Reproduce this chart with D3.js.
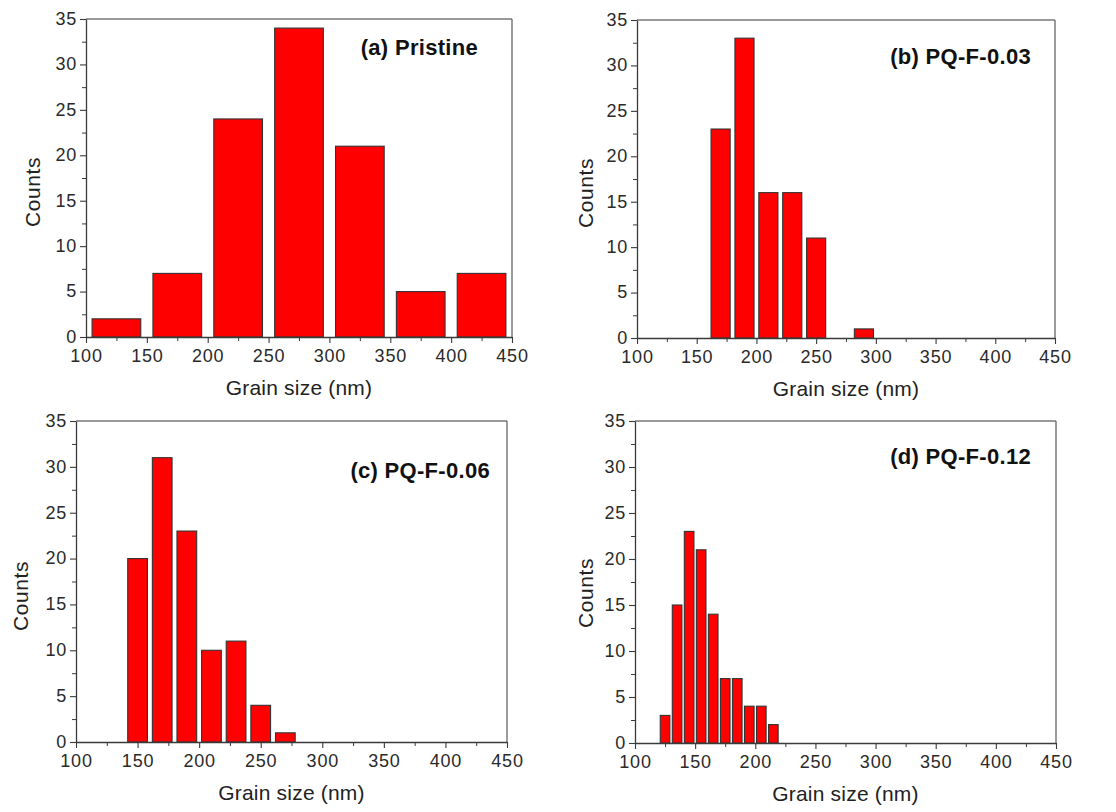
<!DOCTYPE html>
<html>
<head>
<meta charset="utf-8">
<script src="https://cdn.jsdelivr.net/npm/d3@7"></script>
<style>
  html, body { margin: 0; padding: 0; background: #fff; }
  svg { display: block; font-family: "Liberation Sans", Arial, sans-serif; }
</style>
</head>
<body>
<svg id="chart" width="1116" height="812"></svg>
<script>
// ---- data ----
const xTickValues = [100, 150, 200, 250, 300, 350, 400, 450];
const yTickValues = [0, 5, 10, 15, 20, 25, 30, 35];
const xDomain = [100, 450];
const yDomain = [0, 35];

const pristineCenters = [125, 175, 225, 275, 325, 375, 425];
const pristineCounts  = [2, 7, 24, 34, 21, 5, 7];

const pqf003Centers = [170, 190, 210, 230, 250, 270, 290];
const pqf003Counts  = [23, 33, 16, 16, 11, 0, 1];

const pqf006Centers = [150, 170, 190, 210, 230, 250, 270];
const pqf006Counts  = [20, 31, 23, 10, 11, 4, 1];

const pqf012Centers = [125, 135, 145, 155, 165, 175, 185, 195, 205, 215];
const pqf012Counts  = [3, 15, 23, 21, 14, 7, 7, 4, 4, 2];

const panelTitles = ["(a) Pristine", "(b) PQ-F-0.03", "(c) PQ-F-0.06", "(d) PQ-F-0.12"];
const xAxisTitle = "Grain size (nm)";
const yAxisTitle = "Counts";

// ---- layout ----
const panels = [
  { centers: pristineCenters, counts: pristineCounts, bin: 50, title: panelTitles[0],
    x0: 86, x1: 512, yTop: 19, yBot: 337, titleX: 478, titleY: 55, ylabX: 33, ylabY: 192 },
  { centers: pqf003Centers, counts: pqf003Counts, bin: 20, title: panelTitles[1],
    x0: 637, x1: 1055, yTop: 20, yBot: 338, titleX: 1031, titleY: 64, ylabX: 586, ylabY: 193 },
  { centers: pqf006Centers, counts: pqf006Counts, bin: 20, title: panelTitles[2],
    x0: 76, x1: 507, yTop: 421, yBot: 742, titleX: 490, titleY: 478, ylabX: 21, ylabY: 596 },
  { centers: pqf012Centers, counts: pqf012Counts, bin: 10, title: panelTitles[3],
    x0: 635, x1: 1056, yTop: 421, yBot: 743, titleX: 1031, titleY: 464, ylabX: 586, ylabY: 593 }
];

const svg = d3.select("#chart");
const axisColor = "#3a3a3a";
const textColor = "#222";

panels.forEach(p => {
  const x = d3.scaleLinear().domain(xDomain).range([p.x0, p.x1]);
  const y = d3.scaleLinear().domain(yDomain).range([p.yBot, p.yTop]);
  const g = svg.append("g");

  // frame (top & right)
  g.append("line").attr("x1", p.x0).attr("x2", p.x1).attr("y1", p.yTop).attr("y2", p.yTop)
    .attr("stroke", "#777").attr("stroke-width", 1.3);
  g.append("line").attr("x1", p.x1).attr("x2", p.x1).attr("y1", p.yTop).attr("y2", p.yBot)
    .attr("stroke", "#666").attr("stroke-width", 1.3);

  // bars
  const data = p.centers.map((c, i) => ({ c, v: p.counts[i] })).filter(d => d.v > 0);
  const bw = p.bin * 0.8;
  g.selectAll("rect.bar").data(data).enter().append("rect")
    .attr("class", "bar")
    .attr("x", d => x(d.c - bw / 2))
    .attr("width", d => x(d.c + bw / 2) - x(d.c - bw / 2))
    .attr("y", d => y(d.v))
    .attr("height", d => y(0) - y(d.v))
    .attr("fill", "#ff0000")
    .attr("stroke", "#333")
    .attr("stroke-width", 1.1);

  // minor ticks
  const xMinor = d3.range(125, 450, 50);
  const yMinor = d3.range(2.5, 35, 5);
  g.append("g").attr("transform", `translate(0,${p.yBot})`)
    .call(d3.axisBottom(x).tickValues(xMinor).tickSize(4).tickFormat(""))
    .call(a => a.select(".domain").remove())
    .call(a => a.selectAll("line").attr("stroke", axisColor));
  g.append("g").attr("transform", `translate(${p.x0},0)`)
    .call(d3.axisLeft(y).tickValues(yMinor).tickSize(4).tickFormat(""))
    .call(a => a.select(".domain").remove())
    .call(a => a.selectAll("line").attr("stroke", axisColor));

  // major axes
  const xa = g.append("g").attr("transform", `translate(0,${p.yBot})`)
    .call(d3.axisBottom(x).tickValues(xTickValues).tickSize(6).tickSizeOuter(0).tickPadding(6).tickFormat(d3.format("d")));
  const ya = g.append("g").attr("transform", `translate(${p.x0},0)`)
    .call(d3.axisLeft(y).tickValues(yTickValues).tickSize(6).tickSizeOuter(0).tickPadding(3).tickFormat(d3.format("d")));
  [xa, ya].forEach(a => {
    a.select(".domain").attr("stroke", axisColor).attr("stroke-width", 1.3);
    a.selectAll(".tick line").attr("stroke", axisColor).attr("stroke-width", 1.1);
    a.selectAll(".tick text").attr("fill", "#2a2a2a").style("font-size", "18px")
      .style("letter-spacing", "0.8px");
  });
  ya.selectAll(".tick text").attr("dy", "0.3em");

  // axis titles
  g.append("text")
    .attr("x", (p.x0 + p.x1) / 2).attr("y", p.yBot + 58)
    .attr("text-anchor", "middle").attr("fill", textColor)
    .style("font-size", "21px").style("letter-spacing", "0.2px")
    .text(xAxisTitle);
  g.append("text")
    .attr("transform", `translate(${p.ylabX + 7},${p.ylabY}) rotate(-90)`)
    .attr("text-anchor", "middle").attr("fill", textColor)
    .style("font-size", "21px").style("letter-spacing", "0.6px")
    .text(yAxisTitle);

  // panel title
  g.append("text")
    .attr("x", p.titleX).attr("y", p.titleY)
    .attr("text-anchor", "end").attr("fill", "#111")
    .style("font-size", "22px").style("font-weight", "bold").style("letter-spacing", "0.3px")
    .text(p.title);
});
</script>
</body>
</html>
